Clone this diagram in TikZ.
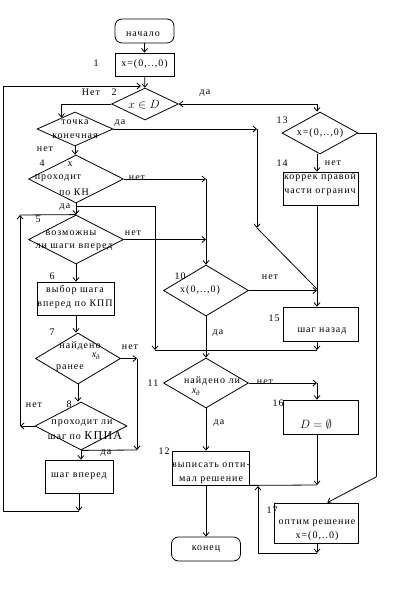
\documentclass[tikz,border=0pt]{standalone}
\usepackage{fontspec}
\setmainfont{Liberation Serif}[LetterSpace=10]
\usetikzlibrary{shapes.geometric,arrows.meta}
\begin{document}
\begin{tikzpicture}[x=1pt,y=-1pt,
  line width=0.8pt,
  >={Straight Barb[length=3.5pt,width=6pt]},
  every node/.style={font=\fontsize{10}{14}\selectfont, inner sep=0pt},
  dia/.style 2 args={shape=diamond, draw, minimum width=#1, minimum height=#2},
  blk/.style 2 args={rectangle, draw, minimum width=#1, minimum height=#2},
  term/.style 2 args={rectangle, rounded corners=7pt, draw, minimum width=#1, minimum height=#2},
  two/.style={align=center},
  big/.style={font=\fontsize{12}{14}\selectfont},
]
\useasboundingbox (0,0) rectangle (400,596);

% ---------- shapes ----------
\node[term={59}{24}] (start) at (144.5,31) {};
\node (tstart) at (143,34) {начало};
\node[blk={59}{23}] (b1) at (144.5,64.5) {x=(0,..,0)};
\node[dia={67}{32}] (d2) at (145,104) {};
\node[big] (t2) at (144,105) {$x\in D$};

\node[dia={76}{34}] (d3) at (75,129) {};
\node[two] (t3) at (75,129) {точка\\конечная};

\node[dia={95}{48}] (d4) at (76,179) {};
\node (t4a) at (70,164) {x};
\node (t4b) at (58,178) {проходит};
\node (t4c) at (74,192) {по КН};

\node[dia={95}{49}] (d5) at (76,239.5) {};
\node (t5a) at (71,233) {возможны};
\node (t5b) at (74,247) {ли шаги вперед};

\node[blk={77}{33}] (b6) at (76,298.5) {};
\node[two] (t6) at (75,297) {выбор шага\\вперед по КПП};

\node[dia={85}{51}] (d7) at (78,358.5) {};
\node (t7a) at (80,346) {найдено};
\node (t7b) at (96,356) {{\itshape x}\textsubscript{\itshape д}};
\node (t7c) at (70,368) {ранее};

\node[dia={92}{48}] (d8) at (81,426) {};
\node (t8a) at (82,423) {проходит ли};
\node (t8b) at (85,436) {шаг по {\fontsize{12}{14}\selectfont КПИА}};

\node[blk={68}{33}] (b9) at (79,476.5) {шаг вперед};

\node[dia={85}{51}] (d10) at (206,290.5) {};
\node (t10) at (200,290) {x(0,..,0)};

\node[dia={85}{50}] (d11) at (206,383) {};
\node (t11a) at (212,381) {найдено ли};
\node (t11b) at (196,392) {{\itshape x}\textsubscript{\itshape д}};

\node[blk={77}{34}] (b12) at (210.5,468) {};
\node[two] (t12) at (211,473) {выписать опти-\\мал решение};

\node[term={69}{24}] (end) at (206,549) {конец};

\node[dia={76}{42}] (d13) at (320,133) {};
\node (t13) at (320,133) {x=(0,..,0)};

\node[blk={75}{33}] (b14) at (320.5,188.5) {};
\node[two] (t14) at (320,184.5) {коррек правой\\части огранич};

\node[blk={75}{34}] (b15) at (320.5,324) {};
\node (t15) at (322,331) {шаг назад};

\node[blk={75}{34}] (b16) at (320.5,417) {};
\node[big] (t16) at (316,424) {$D=\emptyset$};

\node[blk={84}{40}] (b17) at (316,523) {};
\node[two] (t17) at (317,530) {оптим решение\\x=(0,..0)};

% ---------- labels ----------
\node (l1) at (96,63) {1};
\node (l2) at (114,92) {2};
\node (lnet2) at (91,92) {Нет};
\node (lda2) at (205,93) {да};
\node (lda3) at (120,123) {да};
\node (lnet3) at (45,149) {нет};
\node (l4) at (42,163) {4};
\node (lnet4) at (137,178) {нет};
\node (lda4) at (65,207) {да};
\node (l5) at (38,219) {5};
\node (lnet5) at (133,233) {нет};
\node (l6) at (52,276) {6};
\node (l7) at (52,332) {7};
\node (lnet7) at (130,347) {нет};
\node (lnet8) at (34,405) {нет};
\node (l8) at (69,404) {8};
\node (lda8) at (106,453) {да};
\node (l10) at (180,276) {10};
\node (lnet10) at (270,277) {нет};
\node (lda10) at (218,333) {да};
\node (l11) at (153,383) {11};
\node (lnet11) at (265,382) {нет};
\node (lda11) at (219,423) {да};
\node (l12) at (164,451) {12};
\node (l13) at (282,120) {13};
\node (l14) at (282,163) {14};
\node (lnet13) at (333,163) {нет};
\node (l15) at (274,318) {15};
\node (l16) at (278,403) {16};
\node (l17) at (272,510) {17};

% ---------- coordinates ----------
\coordinate (p1) at (79,511);
\coordinate (p2) at (3,511);
\coordinate (p3) at (3,86);
\coordinate (p4) at (141,86);
\coordinate (q1) at (317,104);
\coordinate (r1) at (20,426);
\coordinate (r2) at (20,215);
\coordinate (s1) at (76,206);
\coordinate (t3c) at (155,206);
\coordinate (t2c) at (155,350);
\coordinate (t1c) at (317,350);
\coordinate (u1) at (206,179);
\coordinate (u2) at (206,239.5);
\coordinate (v1) at (257,129);
\coordinate (v2) at (257,228);
\coordinate (v3) at (317,289);
\coordinate (w1) at (317,290.5);
\coordinate (x1) at (376,133);
\coordinate (x2) at (376,477);
\coordinate (y1) at (317,383);
\coordinate (z1) at (317,485);
\coordinate (z2) at (317,553);
\coordinate (z3) at (258,553);
\coordinate (z4) at (258,486);
\coordinate (k1) at (137,358.5);
\coordinate (k2) at (137,450);

% ---------- connectors ----------
\draw[->] (start) -- (b1);
\draw[->] (b1) -- (d2);
\draw[->] (b9.south) -- (p1);
\draw[->] (p1) -- (p2) -- (p3) -- (p4);
\draw[->] (d2.west) -| (d3.140);
\draw[<-] (d2.east) -- (q1);
\draw[->] (q1) -- (q1 |- d13.north);

\draw[->] (d3.south) -- (d3.south |- d4.north);
\draw[->] (d3.east) -- (v1);
\draw[->] (v1) -- (v2);
\draw (v2) -- (v3);

\draw[->] (d4.east) -- (u1);
\draw[->] (u1) -- (d10.north);
\draw[->] (d4.south) -- (d4.south |- d5.north);
\draw (t3c) -- (s1);
\draw[->] (t3c) -- (t2c);
\draw (t2c) -- (t1c);
\draw[->] (q1 |- b15.south) -- (t1c);

\draw[->] (d5.east) -- (u2);
\draw[->] (d5.south) -- (d5.south |- b6.north);
\draw[->] (b6.south) -- (b6.south |- d7.north);
\draw[->] (d7.east) -- (k1);
\draw[->] (k1) -- (k2);
\draw (k2) -- (d8.south);
\draw[->] (d7.south) -- (d7.south |- d8.north);
\draw[->] (d8.south) -- (d8.south |- b9.north);
\draw[->] (d8.west) -- (r1);
\draw[->] (r1) -- (r2);
\draw (r2) -- (d5.north);

\draw[->] (q1 |- d13.south) -- (q1 |- b14.north);
\draw (q1 |- b14.south) -- (w1);
\draw[->] (w1) -- (q1 |- b15.north);
\draw[->] (d10.east) -- (w1);
\draw (d13.east) -- (x1) -- (x2);
\draw[->] (x2) -- (b17.61);

\draw[->] (d10.south) -- (d11.north);
\draw[->] (d11.east) -- (y1);
\draw[->] (y1) -- (q1 |- b16.north);
\draw[->] (d11.south) -- (d11.south |- b12.north);
\draw[->] (b12.south -| end.north) -- (end.north);
\draw[->] (q1 |- b16.south) -- (z1);
\draw (z1) -- (b12.south east);
\draw[->] (q1 |- b17.south) -- (z2);
\draw (z2) -- (z3);
\draw[->] (z3) -- (z4);
\end{tikzpicture}
\end{document}
